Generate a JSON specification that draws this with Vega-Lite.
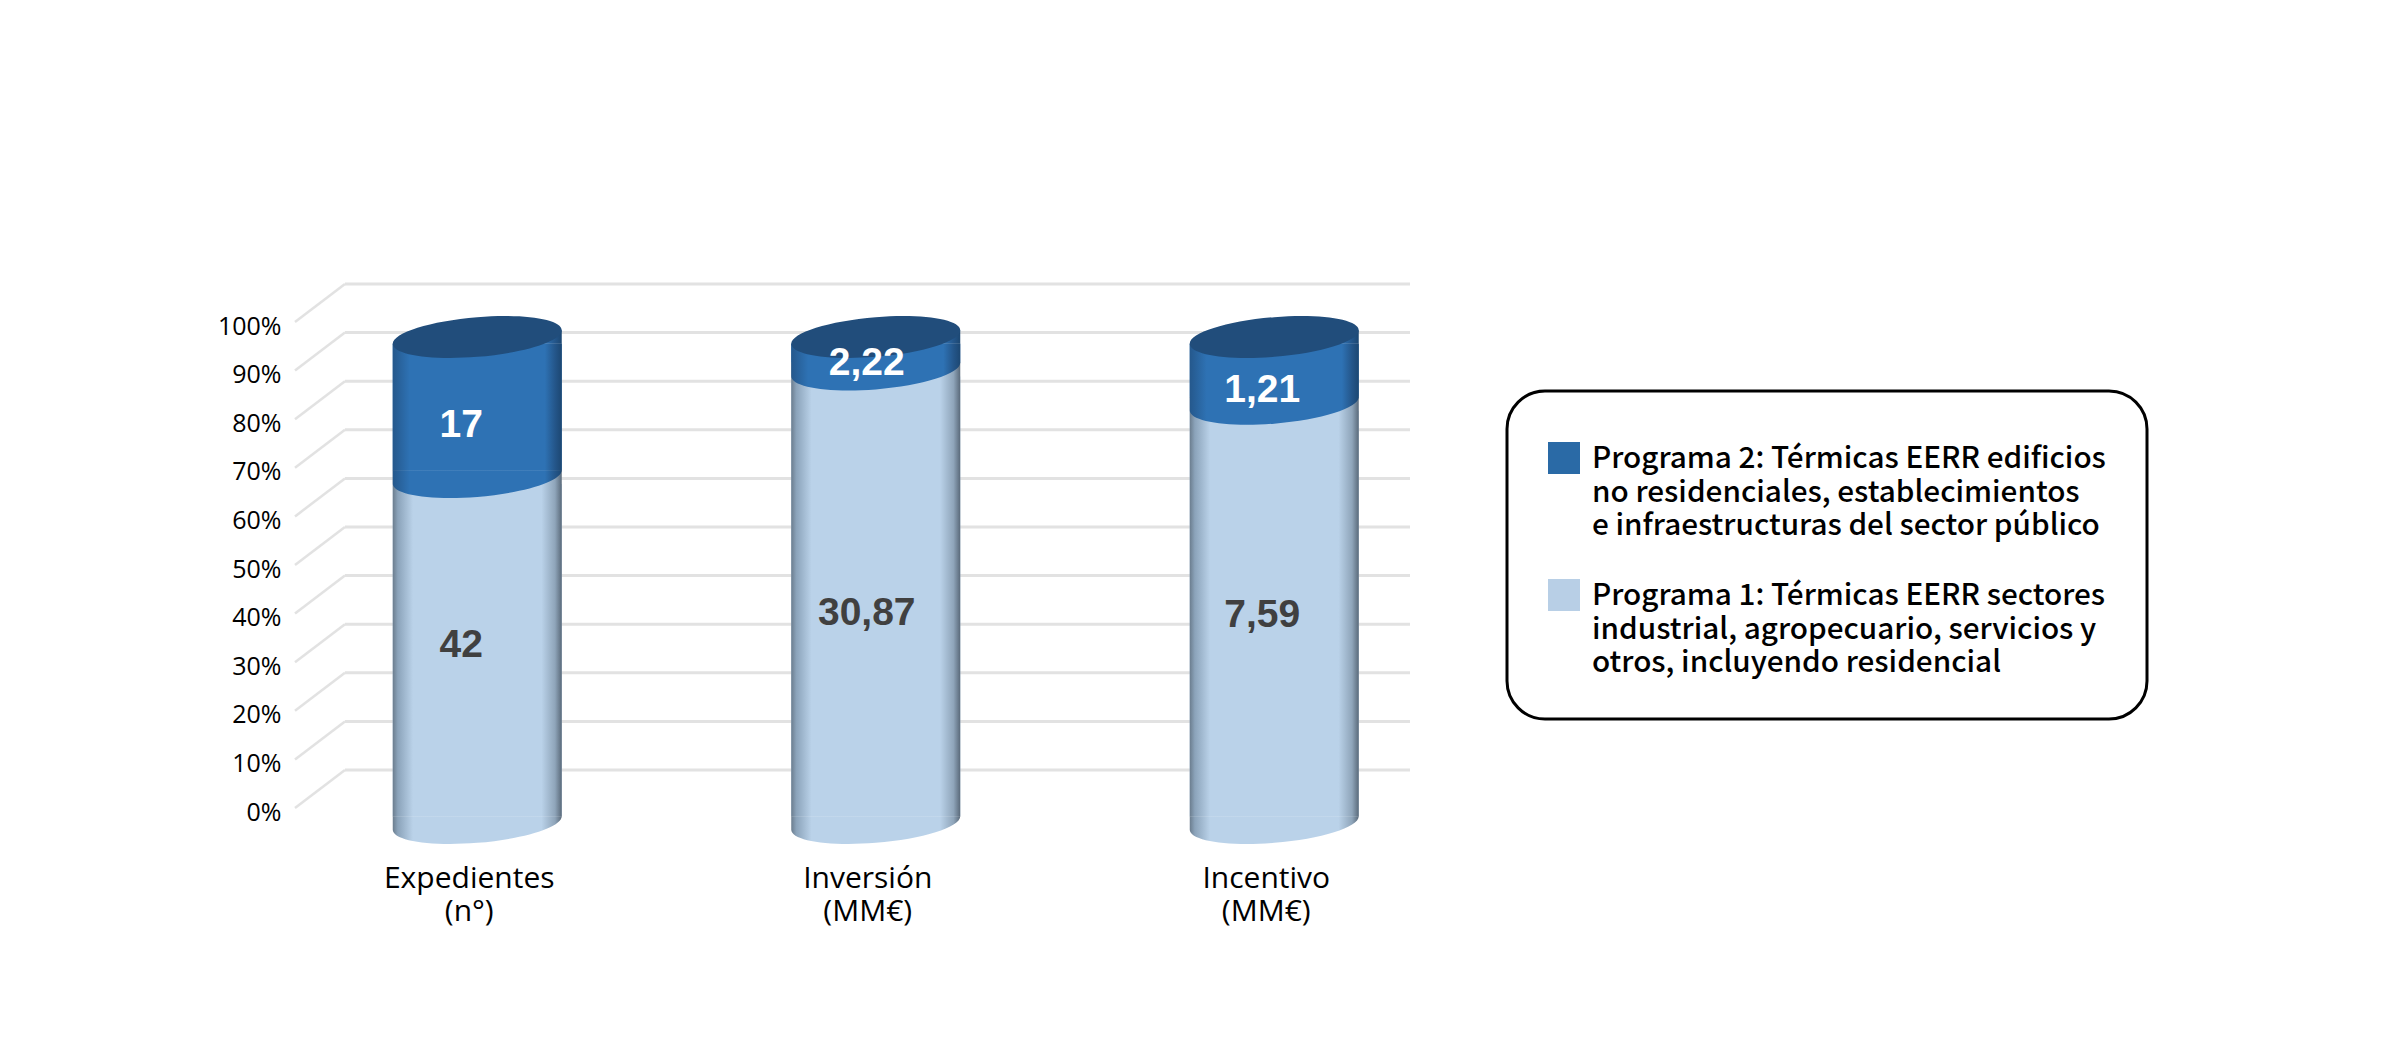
{
"$schema":"https://vega.github.io/schema/vega-lite/v6.json",
"autosize":{"type":"none"},
"width":1115,"height":486,
"padding":{"left":295,"top":337,"right":971,"bottom":227},
"background":"white",
"config":{"view":{"stroke":null},"legend":{"strokeWidth":3}},
"layer":[
{"data":{"values":[{"pct":0},{"pct":0.1},{"pct":0.2},{"pct":0.3},{"pct":0.4},{"pct":0.5},{"pct":0.6},{"pct":0.7},{"pct":0.8},{"pct":0.9},{"pct":1}]},
 "layer":[
 {"mark":{"type":"rule","color":"#e2e2e2","strokeWidth":3,"yOffset":-53,"y2Offset":-53},
  "encoding":{"x":{"datum":0.0448,"type":"quantitative","scale":{"domain":[0,1],"nice":false,"zero":false},"axis":null},"x2":{"datum":1},
   "y":{"field":"pct","type":"quantitative","scale":{"domain":[0,1],"nice":false},
    "axis":{"title":null,"domain":false,"ticks":false,"grid":false,"values":[0,0.1,0.2,0.3,0.4,0.5,0.6,0.7,0.8,0.9,1],"format":".0%","labelFont":"Open Sans","labelFontSize":25,"labelColor":"#000","labelPadding":14,"labelOffset":-11}},"y2":{"field":"pct"}}},
 {"mark":{"type":"rule","color":"#e2e2e2","strokeWidth":2.5,"yOffset":-15,"y2Offset":-53},
  "encoding":{"x":{"datum":0,"type":"quantitative","scale":{"domain":[0,1],"nice":false,"zero":false},"axis":null},"x2":{"datum":0.0448},
   "y":{"field":"pct","type":"quantitative","scale":{"domain":[0,1],"nice":false}},"y2":{"field":"pct"}}}
 ]},
{"data":{"values":[
 {"medida":"Expedientes (n°)","programa":"Programa 1: Térmicas EERR sectores industrial, agropecuario, servicios y otros, incluyendo residencial","orden":1,"valor":42,"etiqueta":"42"},
 {"medida":"Expedientes (n°)","programa":"Programa 2: Térmicas EERR edificios no residenciales, establecimientos e infraestructuras del sector público","orden":2,"valor":17,"etiqueta":"17"},
 {"medida":"Inversión (MM€)","programa":"Programa 1: Térmicas EERR sectores industrial, agropecuario, servicios y otros, incluyendo residencial","orden":1,"valor":30.87,"etiqueta":"30,87"},
 {"medida":"Inversión (MM€)","programa":"Programa 2: Térmicas EERR edificios no residenciales, establecimientos e infraestructuras del sector público","orden":2,"valor":2.22,"etiqueta":"2,22"},
 {"medida":"Incentivo (MM€)","programa":"Programa 1: Térmicas EERR sectores industrial, agropecuario, servicios y otros, incluyendo residencial","orden":1,"valor":7.59,"etiqueta":"7,59"},
 {"medida":"Incentivo (MM€)","programa":"Programa 2: Térmicas EERR edificios no residenciales, establecimientos e infraestructuras del sector público","orden":2,"valor":1.21,"etiqueta":"1,21"}
 ]},
 "transform":[
  {"stack":"valor","groupby":["medida"],"sort":[{"field":"orden","order":"ascending"}],"offset":"normalize","as":["v0","v1"]},
  {"calculate":"(datum.v0+datum.v1)/2","as":"mitad"}],
 "encoding":{
  "x":{"field":"medida","type":"nominal","sort":null,"scale":{"type":"band","domain":["Expedientes (n°)","Inversión (MM€)","Incentivo (MM€)"],"range":[-17,1178.5],"paddingInner":0,"paddingOuter":0},
   "axis":{"title":null,"domain":false,"ticks":false,"labelAngle":0,"labelFont":"Open Sans","labelFontSize":30,"labelColor":"#000","labelPadding":40,"labelOffset":-8,"labelLineHeight":33,"labelBaseline":"top","labelExpr":"split(datum.label,' ')"}},
  "y":{"field":"v1","type":"quantitative","stack":null,"scale":{"domain":[0,1],"nice":false}}
 },
 "layer":[
 {"mark":{"type":"bar","size":169,"yOffset":7,"y2Offset":-7},
  "encoding":{"y2":{"field":"v0"},
   "color":{"field":"programa","type":"nominal","scale":{"domain":["Programa 2: Térmicas EERR edificios no residenciales, establecimientos e infraestructuras del sector público","Programa 1: Térmicas EERR sectores industrial, agropecuario, servicios y otros, incluyendo residencial"],"range":["#2a6aa6","#b8cfe6"]},
    "legend":{"title":" ","titleFontSize":2,"titlePadding":8,"orient":"none","legendX":1212,"legendY":54,"symbolType":"square","symbolSize":1024,"symbolStrokeWidth":0,"labelFont":"Noto Sans CJK JP","labelFontWeight":500,"labelFontSize":29.7,"labelColor":"#000","labelLimit":700,"labelOffset":12,"labelBaseline":"alphabetic","rowPadding":38,"padding":41,"fillColor":"white","strokeColor":"#000","cornerRadius":38,
     "labelExpr":"split(replace(replace(replace(replace(datum.label,' no resid','|no resid'),' e infra','|e infra'),' industrial','|industrial'),' otros','|otros'),'|')",
     "encoding":{"labels":{"lineHeight":{"value":33.5},"dy":{"value":10}}}}}}},
 {"transform":[{"filter":"datum.orden==1"}],"mark":{"type":"bar","size":169,"yOffset":-7,"y2Offset":-6.5,
   "fill":{"gradient":"linear","x1":0,"x2":1,"y1":0,"y2":0,"stops":[{"offset":0,"color":"#6b7d8e"},{"offset":0.03,"color":"#8ba3ba"},{"offset":0.12,"color":"#bad2e9"},{"offset":0.88,"color":"#bad2e9"},{"offset":0.96,"color":"#8fa5ba"},{"offset":1,"color":"#5a6a7a"}]}},
  "encoding":{"y2":{"field":"v0"}}},
 {"transform":[{"filter":"datum.orden==1"}],"mark":{"type":"point","filled":true,"opacity":1,"size":28561,"strokeWidth":0,
   "shape":"M-1,-0.08L-1,0.08C-1,0.2098,-0.5523,0.2792,0,0.235C0.5523,0.1908,1,0.0498,1,-0.08Z",
   "fill":{"gradient":"linear","x1":0,"x2":1,"y1":0,"y2":0,"stops":[{"offset":0,"color":"#6b7d8e"},{"offset":0.03,"color":"#8ba3ba"},{"offset":0.12,"color":"#bad2e9"},{"offset":0.88,"color":"#bad2e9"},{"offset":0.96,"color":"#8fa5ba"},{"offset":1,"color":"#5a6a7a"}]}},
  "encoding":{"y":{"field":"v0","type":"quantitative"}}},
 {"transform":[{"filter":"datum.orden==2"}],"mark":{"type":"bar","size":169,"yOffset":6.5,"y2Offset":-6.5,
   "fill":{"gradient":"linear","x1":0,"x2":1,"y1":0,"y2":0,"stops":[{"offset":0,"color":"#25588c"},{"offset":0.1,"color":"#2e72b4"},{"offset":0.9,"color":"#2e72b4"},{"offset":0.96,"color":"#24568a"},{"offset":1,"color":"#1c4772"}]}},
  "encoding":{"y2":{"field":"v0"}}},
 {"transform":[{"filter":"datum.orden==2"}],"mark":{"type":"point","filled":true,"opacity":1,"size":28561,"strokeWidth":0,
   "shape":"M-1,-0.08L-1,0.08C-1,0.2098,-0.5523,0.2792,0,0.235C0.5523,0.1908,1,0.0498,1,-0.08Z",
   "fill":{"gradient":"linear","x1":0,"x2":1,"y1":0,"y2":0,"stops":[{"offset":0,"color":"#25588c"},{"offset":0.1,"color":"#2e72b4"},{"offset":0.9,"color":"#2e72b4"},{"offset":0.96,"color":"#24568a"},{"offset":1,"color":"#1c4772"}]}},
  "encoding":{"y":{"field":"v0","type":"quantitative"}}},
 {"transform":[{"filter":"datum.orden==2"}],"mark":{"type":"point","filled":true,"opacity":1,"size":28561,"strokeWidth":0,
   "shape":"M-1,0.08L1,-0.08L1,0.08Z",
   "fill":{"gradient":"linear","x1":0,"x2":1,"y1":0,"y2":0,"stops":[{"offset":0,"color":"#25588c"},{"offset":0.1,"color":"#2e72b4"},{"offset":0.9,"color":"#2e72b4"},{"offset":0.96,"color":"#24568a"},{"offset":1,"color":"#1c4772"}]}},
  "encoding":{"y":{"field":"v1","type":"quantitative"}}},
 {"transform":[{"filter":"datum.orden==2"}],"mark":{"type":"point","filled":true,"opacity":1,"size":28561,"strokeWidth":0,"fill":"#214d7b",
   "shape":"M1,-0.08C1,0.0498,0.5523,0.1908,0,0.235C-0.5523,0.2792,-1,0.2098,-1,0.08C-1,-0.0498,-0.5523,-0.1908,0,-0.235C0.5523,-0.2792,1,-0.2098,1,-0.08Z"},
  "encoding":{"y":{"field":"v1","type":"quantitative"}}},
 {"mark":{"type":"text","font":"Liberation Sans","fontWeight":"bold","fontSize":39,"baseline":"middle",
   "dx":{"expr":"({'42':-16,'17':-16,'30,87':-9,'2,22':-9,'7,59':-12,'1,21':-12})[datum.etiqueta]"},
   "dy":{"expr":"({'42':-5,'17':18,'30,87':17,'2,22':10,'7,59':2,'1,21':20})[datum.etiqueta]"},
   "fill":{"expr":"datum.orden==2?'#ffffff':'#404040'"}},
  "encoding":{"y":{"field":"mitad","type":"quantitative"},"text":{"field":"etiqueta"}}}
 ]}
],
"resolve":{"scale":{"x":"independent"},"axis":{"x":"independent"}}
}
